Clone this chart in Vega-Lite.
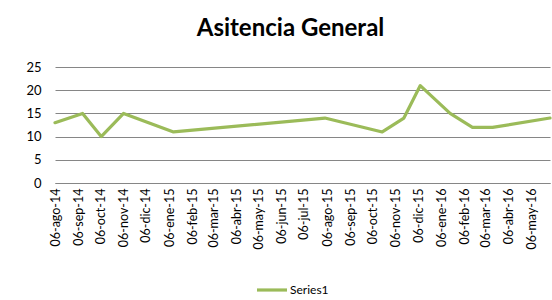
{
  "$schema": "https://vega.github.io/schema/vega-lite/v6.json",
  "width": 495,
  "height": 116,
  "autosize": {"type": "none"},
  "padding": {"left": 55, "top": 67, "right": 2, "bottom": 117},
  "background": "white",
  "title": {
    "text": "Asitencia General",
    "font": "Lato",
    "fontSize": 24,
    "fontWeight": "bold",
    "color": "#000000",
    "anchor": "middle",
    "dx": -12,
    "offset": 20
  },
  "data": {
    "values": [
      {"date": "2014-08-06", "value": 13, "series": "Series1"},
      {"date": "2014-09-12", "value": 15, "series": "Series1"},
      {"date": "2014-10-07", "value": 10, "series": "Series1"},
      {"date": "2014-11-06", "value": 15, "series": "Series1"},
      {"date": "2015-01-12", "value": 11, "series": "Series1"},
      {"date": "2015-08-03", "value": 14, "series": "Series1"},
      {"date": "2015-10-19", "value": 11, "series": "Series1"},
      {"date": "2015-11-17", "value": 14, "series": "Series1"},
      {"date": "2015-12-09", "value": 21, "series": "Series1"},
      {"date": "2016-01-18", "value": 15, "series": "Series1"},
      {"date": "2016-02-17", "value": 12, "series": "Series1"},
      {"date": "2016-03-15", "value": 12, "series": "Series1"},
      {"date": "2016-05-31", "value": 14, "series": "Series1"}
    ]
  },
  "mark": {"type": "line", "strokeWidth": 3.2, "strokeJoin": "round", "strokeCap": "round"},
  "encoding": {
    "x": {
      "field": "date",
      "type": "temporal",
      "scale": {
        "type": "utc",
        "nice": false,
        "domain": [
          {"year": 2014, "month": 8, "date": 6, "utc": true},
          {"year": 2016, "month": 5, "date": 31, "utc": true}
        ]
      },
      "axis": {
        "title": null,
        "grid": false,
        "ticks": false,
        "domainColor": "#868686",
        "domainWidth": 1,
        "labelAngle": -90,
        "labelAlign": "right",
        "labelBaseline": "middle",
        "labelPadding": 5,
        "labelFont": "Lato",
        "labelFontSize": 12.5,
        "labelColor": "#000000",
        "labelOverlap": false,
        "labelExpr": "'06-' + ['ene','feb','mar','abr','may','jun','jul','ago','sep','oct','nov','dic'][utcmonth(datum.value)] + '-' + utcFormat(datum.value, '%y')",
        "values": [
          {"year": 2014, "month": 8, "date": 6, "utc": true},
          {"year": 2014, "month": 9, "date": 6, "utc": true},
          {"year": 2014, "month": 10, "date": 6, "utc": true},
          {"year": 2014, "month": 11, "date": 6, "utc": true},
          {"year": 2014, "month": 12, "date": 6, "utc": true},
          {"year": 2015, "month": 1, "date": 6, "utc": true},
          {"year": 2015, "month": 2, "date": 6, "utc": true},
          {"year": 2015, "month": 3, "date": 6, "utc": true},
          {"year": 2015, "month": 4, "date": 6, "utc": true},
          {"year": 2015, "month": 5, "date": 6, "utc": true},
          {"year": 2015, "month": 6, "date": 6, "utc": true},
          {"year": 2015, "month": 7, "date": 6, "utc": true},
          {"year": 2015, "month": 8, "date": 6, "utc": true},
          {"year": 2015, "month": 9, "date": 6, "utc": true},
          {"year": 2015, "month": 10, "date": 6, "utc": true},
          {"year": 2015, "month": 11, "date": 6, "utc": true},
          {"year": 2015, "month": 12, "date": 6, "utc": true},
          {"year": 2016, "month": 1, "date": 6, "utc": true},
          {"year": 2016, "month": 2, "date": 6, "utc": true},
          {"year": 2016, "month": 3, "date": 6, "utc": true},
          {"year": 2016, "month": 4, "date": 6, "utc": true},
          {"year": 2016, "month": 5, "date": 6, "utc": true}
        ]
      }
    },
    "y": {
      "field": "value",
      "type": "quantitative",
      "scale": {"domain": [0, 25], "nice": false},
      "axis": {
        "title": null,
        "values": [0, 5, 10, 15, 20, 25],
        "domain": false,
        "ticks": false,
        "gridColor": "#868686",
        "gridWidth": 1,
        "labelFont": "Lato",
        "labelFontSize": 13,
        "labelColor": "#000000",
        "labelPadding": 14
      }
    },
    "color": {
      "field": "series",
      "type": "nominal",
      "scale": {"range": ["#9BBB59"]},
      "legend": {
        "title": null,
        "orient": "none",
        "legendX": 200,
        "legendY": 206,
        "symbolType": "stroke",
        "symbolStrokeWidth": 3.2,
        "symbolSize": 900,
        "labelFont": "Lato",
        "labelFontSize": 12,
        "labelColor": "#000000",
        "labelOffset": 1
      }
    }
  },
  "config": {
    "view": {"stroke": null}
  }
}
